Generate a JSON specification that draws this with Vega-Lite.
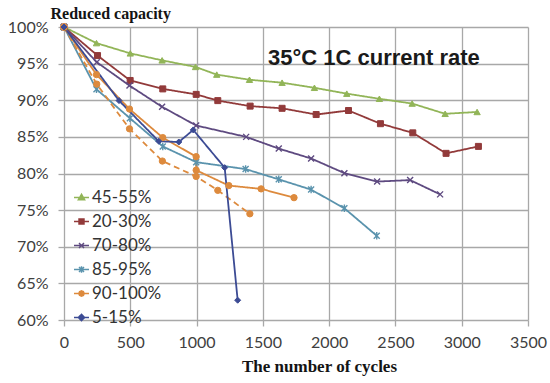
{
  "$schema": "https://vega.github.io/schema/vega-lite/v6.json",
  "autosize": "none",
  "width": 464,
  "height": 293,
  "padding": {"left": 64, "top": 27, "right": 22, "bottom": 63},
  "background": "white",
  "config": {"view": {"stroke": null}},
  "title": {"text": "35°C 1C current rate", "anchor": "start", "frame": "group", "dx": 204, "dy": 82, "baseline": "alphabetic", "offset": 0, "font": "Liberation Sans", "fontSize": 22, "fontWeight": "bold", "color": "#1a1a1a"},
  "data": {"values": [
    {"series": "45-55%", "step": 0, "cycles": 0, "cap": 100},
    {"series": "45-55%", "step": 1, "cycles": 245, "cap": 97.8},
    {"series": "45-55%", "step": 2, "cycles": 500, "cap": 96.4},
    {"series": "45-55%", "step": 3, "cycles": 740, "cap": 95.45},
    {"series": "45-55%", "step": 4, "cycles": 992, "cap": 94.55},
    {"series": "45-55%", "step": 5, "cycles": 1152, "cap": 93.5},
    {"series": "45-55%", "step": 6, "cycles": 1399, "cap": 92.8},
    {"series": "45-55%", "step": 7, "cycles": 1645, "cap": 92.4},
    {"series": "45-55%", "step": 8, "cycles": 1889, "cap": 91.7},
    {"series": "45-55%", "step": 9, "cycles": 2133, "cap": 90.9},
    {"series": "45-55%", "step": 10, "cycles": 2379, "cap": 90.2},
    {"series": "45-55%", "step": 11, "cycles": 2626, "cap": 89.55},
    {"series": "45-55%", "step": 12, "cycles": 2875, "cap": 88.15},
    {"series": "45-55%", "step": 13, "cycles": 3116, "cap": 88.4},
    {"series": "20-30%", "step": 0, "cycles": 0, "cap": 100},
    {"series": "20-30%", "step": 1, "cycles": 253, "cap": 96.1},
    {"series": "20-30%", "step": 2, "cycles": 499, "cap": 92.7},
    {"series": "20-30%", "step": 3, "cycles": 745, "cap": 91.55},
    {"series": "20-30%", "step": 4, "cycles": 997, "cap": 90.8},
    {"series": "20-30%", "step": 5, "cycles": 1160, "cap": 89.95},
    {"series": "20-30%", "step": 6, "cycles": 1404, "cap": 89.2},
    {"series": "20-30%", "step": 7, "cycles": 1645, "cap": 88.9},
    {"series": "20-30%", "step": 8, "cycles": 1902, "cap": 88.05},
    {"series": "20-30%", "step": 9, "cycles": 2146, "cap": 88.6},
    {"series": "20-30%", "step": 10, "cycles": 2387, "cap": 86.8},
    {"series": "20-30%", "step": 11, "cycles": 2631, "cap": 85.55},
    {"series": "20-30%", "step": 12, "cycles": 2882, "cap": 82.75},
    {"series": "20-30%", "step": 13, "cycles": 3126, "cap": 83.7},
    {"series": "70-80%", "step": 0, "cycles": 0, "cap": 100},
    {"series": "70-80%", "step": 1, "cycles": 247, "cap": 95.2},
    {"series": "70-80%", "step": 2, "cycles": 494, "cap": 92.0},
    {"series": "70-80%", "step": 3, "cycles": 740, "cap": 89.1},
    {"series": "70-80%", "step": 4, "cycles": 997, "cap": 86.55},
    {"series": "70-80%", "step": 5, "cycles": 1374, "cap": 85.0},
    {"series": "70-80%", "step": 6, "cycles": 1620, "cap": 83.4},
    {"series": "70-80%", "step": 7, "cycles": 1864, "cap": 82.05},
    {"series": "70-80%", "step": 8, "cycles": 2115, "cap": 80.05},
    {"series": "70-80%", "step": 9, "cycles": 2362, "cap": 78.9},
    {"series": "70-80%", "step": 10, "cycles": 2611, "cap": 79.1},
    {"series": "70-80%", "step": 11, "cycles": 2837, "cap": 77.15},
    {"series": "85-95%", "step": 0, "cycles": 0, "cap": 100},
    {"series": "85-95%", "step": 1, "cycles": 245, "cap": 91.5},
    {"series": "85-95%", "step": 2, "cycles": 497, "cap": 87.55},
    {"series": "85-95%", "step": 3, "cycles": 745, "cap": 83.7},
    {"series": "85-95%", "step": 4, "cycles": 997, "cap": 81.55},
    {"series": "85-95%", "step": 5, "cycles": 1370, "cap": 80.6},
    {"series": "85-95%", "step": 6, "cycles": 1620, "cap": 79.2},
    {"series": "85-95%", "step": 7, "cycles": 1864, "cap": 77.8},
    {"series": "85-95%", "step": 8, "cycles": 2115, "cap": 75.25},
    {"series": "85-95%", "step": 9, "cycles": 2359, "cap": 71.5},
    {"series": "90-100%", "step": 0, "cycles": 0, "cap": 100},
    {"series": "90-100%", "step": 1, "cycles": 245, "cap": 93.5},
    {"series": "90-100%", "step": 2, "cycles": 494, "cap": 88.8},
    {"series": "90-100%", "step": 3, "cycles": 745, "cap": 84.9},
    {"series": "90-100%", "step": 4, "cycles": 997, "cap": 82.3},
    {"series": "90-100%", "step": 5, "cycles": 997, "cap": 80.45},
    {"series": "90-100%", "step": 6, "cycles": 1243, "cap": 78.35},
    {"series": "90-100%", "step": 7, "cycles": 1487, "cap": 77.9},
    {"series": "90-100%", "step": 8, "cycles": 1735, "cap": 76.7},
    {"series": "90-100% (II)", "step": 0, "cycles": 0, "cap": 100},
    {"series": "90-100% (II)", "step": 1, "cycles": 247, "cap": 92.2},
    {"series": "90-100% (II)", "step": 2, "cycles": 494, "cap": 86.1},
    {"series": "90-100% (II)", "step": 3, "cycles": 742, "cap": 81.7},
    {"series": "90-100% (II)", "step": 4, "cycles": 997, "cap": 79.6},
    {"series": "90-100% (II)", "step": 5, "cycles": 1160, "cap": 77.7},
    {"series": "90-100% (II)", "step": 6, "cycles": 1402, "cap": 74.5},
    {"series": "5-15%", "step": 0, "cycles": 0, "cap": 100},
    {"series": "5-15%", "step": 1, "cycles": 415, "cap": 89.95},
    {"series": "5-15%", "step": 2, "cycles": 715, "cap": 84.4},
    {"series": "5-15%", "step": 3, "cycles": 866, "cap": 84.3},
    {"series": "5-15%", "step": 4, "cycles": 975, "cap": 85.95},
    {"series": "5-15%", "step": 5, "cycles": 1212, "cap": 80.8},
    {"series": "5-15%", "step": 6, "cycles": 1310, "cap": 62.7}
  ]},
  "encoding": {
    "x": {"field": "cycles", "type": "quantitative",
      "scale": {"domain": [0, 3500], "nice": false, "zero": false},
      "axis": {"values": [0, 500, 1000, 1500, 2000, 2500, 3000, 3500], "format": "d", "grid": true, "gridColor": "#a8a8a8", "gridWidth": 1.3, "domain": false, "ticks": true, "tickColor": "#a8a8a8", "tickSize": 6, "tickWidth": 1.3, "labelFont": "Lato", "labelFontSize": 16, "labelColor": "#404040", "labelPadding": 8, "labelFlush": false,
        "title": "The number of cycles", "titleFont": "Liberation Serif", "titleFontSize": 17, "titleFontWeight": "bold", "titleColor": "#141414", "titleX": 255, "titleY": 51, "titleAlign": "center", "titleBaseline": "alphabetic"}},
    "y": {"field": "cap", "type": "quantitative",
      "scale": {"domain": [60, 100], "nice": false, "zero": false},
      "axis": {"values": [60, 65, 70, 75, 80, 85, 90, 95, 100], "labelExpr": "datum.value + '%'", "grid": true, "gridColor": "#a8a8a8", "gridWidth": 1.3, "domain": false, "ticks": true, "tickColor": "#a8a8a8", "tickSize": 6, "tickWidth": 1.3, "labelFont": "Lato", "labelFontSize": 16, "labelColor": "#404040", "labelPadding": 10, "labelFlush": false,
        "title": "Reduced capacity", "titleAngle": 0, "titleFont": "Liberation Serif", "titleFontSize": 16, "titleFontWeight": "bold", "titleColor": "#141414", "titleX": -14, "titleY": -9, "titleAlign": "left", "titleBaseline": "alphabetic"}}
  },
  "layer": [
    {"mark": {"type": "line", "strokeWidth": 1.8},
     "encoding": {
       "order": {"field": "step", "type": "quantitative"},
       "color": {"field": "series", "type": "nominal",
         "scale": {"domain": ["45-55%", "20-30%", "70-80%", "85-95%", "90-100%", "5-15%", "90-100% (II)"], "range": ["#92b558", "#923a3a", "#5e4a80", "#5a93ad", "#dd8a3d", "#3c4b94", "#dd8a3d"]},
         "legend": {"orient": "none", "legendX": 9, "legendY": 162, "title": null, "values": ["45-55%", "20-30%", "70-80%", "85-95%", "90-100%", "5-15%"], "labelFont": "Lato", "labelFontSize": 17, "labelColor": "#333333", "symbolSize": 225, "symbolStrokeWidth": 1.5, "rowPadding": 6, "labelOffset": 2, "padding": 0}},
       "strokeDash": {"field": "series", "type": "nominal", "legend": null,
         "scale": {"domain": ["45-55%", "20-30%", "70-80%", "85-95%", "90-100%", "5-15%", "90-100% (II)"], "range": [[1, 0], [1, 0], [1, 0], [1, 0], [1, 0], [1, 0], [6, 4]]}}
     }},
    {"transform": [{"filter": "datum.cycles < 0"}],
     "mark": {"type": "point", "filled": true, "opacity": 1, "strokeWidth": 1.5},
     "encoding": {
       "color": {"field": "series", "type": "nominal"},
       "shape": {"field": "series", "type": "nominal",
         "scale": {"domain": ["45-55%", "20-30%", "70-80%", "85-95%", "90-100%", "5-15%", "90-100% (II)"], "range": ["M-1,0H1M0,-0.42L0.42,0.3L-0.42,0.3Z", "M-1,0H1M-0.33,-0.33H0.33V0.33H-0.33Z", "M-1,0H1M-0.33,-0.33L0.33,0.33M-0.33,0.33L0.33,-0.33", "M-1,0H1M-0.33,-0.33L0.33,0.33M-0.33,0.33L0.33,-0.33M0,-0.42V0.42", "M-1,0H1M0.36,0L0.25,0.25L0,0.36L-0.25,0.25L-0.36,0L-0.25,-0.25L0,-0.36L0.25,-0.25Z", "M-1,0H1M0,-0.42L0.42,0L0,0.42L-0.42,0Z", "M-1,0H1"]}}
     }},
    {"transform": [{"filter": "datum.series === '45-55%'"}],
     "mark": {"type": "point", "shape": "triangle-up", "filled": true, "fill": "#92b558", "stroke": "#92b558", "strokeWidth": 1, "opacity": 1, "size": 40}},
    {"transform": [{"filter": "datum.series === '20-30%'"}],
     "mark": {"type": "point", "shape": "square", "filled": true, "fill": "#923a3a", "stroke": "#923a3a", "strokeWidth": 1, "opacity": 1, "size": 36}},
    {"transform": [{"filter": "datum.series === '70-80%'"}],
     "mark": {"type": "point", "shape": "M-1,-1L1,1M-1,1L1,-1", "filled": false, "stroke": "#5e4a80", "strokeWidth": 1.4, "opacity": 1, "size": 36}},
    {"transform": [{"filter": "datum.series === '85-95%'"}],
     "mark": {"type": "point", "shape": "M-1,-1L1,1M-1,1L1,-1M0,-1.25V1.25", "filled": false, "stroke": "#5a93ad", "strokeWidth": 1.4, "opacity": 1, "size": 36}},
    {"transform": [{"filter": "datum.series === '90-100%' || datum.series === '90-100% (II)'"}],
     "mark": {"type": "point", "shape": "circle", "filled": true, "fill": "#dd8a3d", "stroke": "#dd8a3d", "strokeWidth": 1, "opacity": 1, "size": 40}},
    {"transform": [{"filter": "datum.series === '5-15%'"}],
     "mark": {"type": "point", "shape": "diamond", "filled": true, "fill": "#3c4b94", "stroke": "#3c4b94", "strokeWidth": 1, "opacity": 1, "size": 36}}
  ]
}
